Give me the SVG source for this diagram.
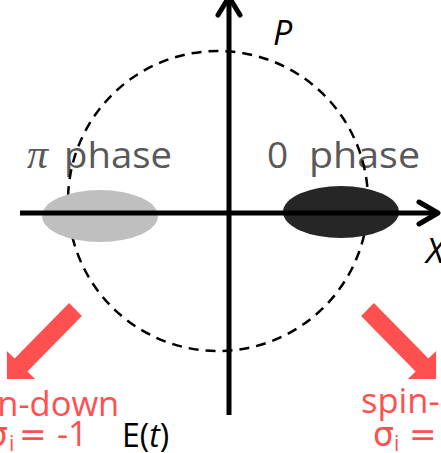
<svg xmlns="http://www.w3.org/2000/svg" width="441" height="453" viewBox="0 0 441 453">
<style>
.ax{stroke:#000;stroke-width:5;fill:none}
.head{stroke:#000;stroke-width:5;fill:none;stroke-linecap:round;stroke-linejoin:round}
.lbl{font-family:"Open Sans","DejaVu Sans",sans-serif;fill:#595959;font-size:37px}
.red{font-family:"Open Sans","DejaVu Sans",sans-serif;fill:#ff5050;font-size:34.5px}
.sig{font-family:"DejaVu Sans",sans-serif;fill:#ff5050;font-size:33px}
.sub{font-family:"Open Sans","DejaVu Sans",sans-serif;fill:#ff5050;font-size:21px}
.blk{font-family:"Open Sans","DejaVu Sans",sans-serif;fill:#000}
</style>
<rect width="441" height="453" fill="#fff"/>
<g id="labels">
<text x="27" y="168" font-family="Liberation Serif,serif" font-style="italic" font-size="42" fill="#595959">π</text>
<text class="lbl" x="64" y="168" textLength="108" lengthAdjust="spacingAndGlyphs">phase</text>
<text class="lbl" x="267" y="168">0</text>
<text class="lbl" x="309" y="168" textLength="111" lengthAdjust="spacingAndGlyphs">phase</text>
<text class="blk" x="273" y="45" font-size="34" font-style="italic">P</text>
<text class="blk" x="426" y="263" font-size="35" font-style="italic">X</text>
</g>
<g id="circle">
<circle cx="218" cy="201" r="150" fill="none" stroke="#000" stroke-width="2.5" stroke-dasharray="10,7"/>
</g>
<g id="pi-phase"><ellipse cx="100" cy="216" rx="58" ry="26" fill="#bfbfbf"/></g>
<g id="zero-phase"><ellipse cx="341" cy="212" rx="58" ry="26" fill="#262626"/></g>
<g id="connectors">
<line class="ax" x1="20" y1="213" x2="437" y2="213"/>
<polyline class="head" points="419,202 438,213 419,224"/>
<line class="ax" x1="229" y1="415" x2="229" y2="0"/>
<polyline class="head" points="218,15 229,-3 240,15"/>
<polygon fill="#ff5050" points="69.1,303.1 81.9,315.9 27.4,371.4 35.1,379.1 6.9,379.1 6.9,350.9 14.6,358.6"/>
<polygon fill="#ff5050" points="373.9,303.1 361.1,315.9 415.6,371.4 407.9,379.1 436.1,379.1 436.1,350.9 428.4,358.6"/>
</g>
<g id="spin-down">
<text class="red" x="-49" y="416">spin-down</text>
<text class="sig" x="-13" y="446">σ</text>
<text class="sub" x="9" y="451">i</text>
<text class="sig" x="19" y="446">=</text>
<text class="red" x="57" y="446">-1</text>
</g>
<g id="spin-up">
<text class="red" x="361" y="413">spin-up</text>
<text class="sig" x="373" y="446">σ</text>
<text class="sub" x="394" y="451">i</text>
<text class="sig" x="409" y="446">=</text>
</g>
<g id="Et">
<text class="blk" x="122" y="447" font-size="32">E(<tspan font-style="italic">t</tspan>)</text>
</g>
</svg>
